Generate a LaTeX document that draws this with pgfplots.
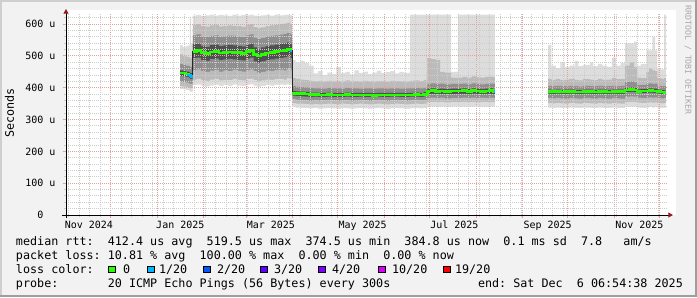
\documentclass[border=0pt]{standalone}
\usepackage{fontspec}
\setmainfont{DejaVu Sans Mono}
\usepackage{pgfplots}
\pgfplotsset{compat=1.18}
\usepackage{pgfplotstable}
\usetikzlibrary{arrows.meta}
\frenchspacing

\definecolor{bgc}{HTML}{F2F2F2}
\definecolor{shadeA}{HTML}{CFCFCF}
\definecolor{shadeB}{HTML}{9E9E9E}
\definecolor{majgrid}{HTML}{E4A0A0}
\definecolor{mingrid}{HTML}{CCCCCC}
\definecolor{arrowc}{HTML}{991A1A}
\definecolor{sA}{HTML}{DDDDDD}
\definecolor{sB}{HTML}{BBBBBB}
\definecolor{sC}{HTML}{8F8F8F}
\definecolor{sD}{HTML}{505050}
\definecolor{l0}{HTML}{26FF00}
\definecolor{l1}{HTML}{00B8FF}
\definecolor{l2}{HTML}{0059FF}
\definecolor{l3}{HTML}{5E00FF}
\definecolor{l4}{HTML}{7E00FF}
\definecolor{l10}{HTML}{DD00FF}
\definecolor{l19}{HTML}{FF0000}
\definecolor{wm}{HTML}{A8A8A8}

% days since 1 Nov 2024
\pgfplotstableread{
day mn p10 p25 p45 med p55 p75 p90 mx
76.1 396 405 420 437 447 455 475 505 534
78.0 395 404 418 436 446 453 472 500 528
80.0 393 402 416 434 443 451 470 498 532
82.0 390 400 414 431 440 449 468 496 535
82.7 386 398 412 428 438 447 466 495 624
83.5 388 399 413 428 436 446 466 494 540
84.7 408 425 455 493 515 537 565 598 627
87 410 428 458 495 517 539 568 600 629
90 406 424 452 488 510 532 561 594 626
93 404 422 450 485 507 529 559 592 628
96 407 426 454 490 512 534 563 596 630
99 409 427 456 492 514 536 565 597 627
102 405 423 451 487 509 531 560 593 629
105 408 425 455 489 511 533 562 595 628
108 406 424 452 491 513 535 564 596 626
111 410 428 457 489 511 533 563 595 630
114 407 425 453 488 510 532 561 594 627
117 405 423 451 486 508 530 559 592 629
120 409 427 455 492 514 536 565 598 628
122.6 411 429 458 495 517 539 568 600 630
125 406 424 452 483 505 527 558 591 627
127.3 403 420 447 478 500 522 553 588 626
130 405 423 450 483 505 527 557 590 628
133 408 426 454 487 509 531 561 594 629
136 407 425 453 489 511 533 563 596 627
139 409 427 456 492 514 536 565 598 630
142 410 428 457 494 516 538 567 600 628
145 408 426 455 496 518 540 569 602 629
147.2 411 430 459 499 521 543 572 604 630
149.5 409 428 457 494 516 538 568 600 628
150.6 340 352 365 375 383 390 405 430 487
153 338 350 363 374 382 389 403 428 480
156 337 350 362 373 381 388 402 426 485
159 336 349 361 372 380 387 401 424 478
162 335 348 360 371 378 385 399 422 470
165 336 349 361 372 378 385 398 420 445
168 334 348 360 371 377 384 398 421 452
171 335 349 361 371 377 384 397 419 440
174 336 350 362 372 378 385 399 422 448
177 335 349 361 371 377 384 398 420 444
180 334 348 360 371 377 384 398 421 465
183 336 350 361 371 377 384 397 419 446
186 335 349 361 372 378 385 399 423 450
189 334 348 360 371 377 384 398 420 442
192 335 349 361 371 377 384 398 421 455
195 336 350 362 372 377 384 397 419 447
198 335 349 361 371 377 384 398 422 451
201 334 348 360 371 377 384 398 420 443
204 335 349 361 371 376 383 397 419 448
207 336 350 362 372 377 384 398 421 454
210 335 349 361 371 377 384 398 420 446
213 334 348 360 371 377 384 397 419 449
216 335 349 361 372 377 384 398 422 452
219 336 350 362 372 377 384 398 421 445
222 335 349 361 371 377 384 397 420 450
225 334 348 360 371 377 384 398 419 447
228.9 335 349 361 372 377 384 398 422 630
232 336 350 362 372 378 385 399 423 630
235 335 349 361 371 377 384 398 421 630
238 336 350 362 373 378 386 400 425 630
240.5 340 355 368 380 390 397 412 493 630
243 341 356 369 381 391 398 414 490 630
246 340 355 368 380 389 396 412 488 630
249 341 356 369 381 390 397 413 450 630
252 340 354 367 380 389 396 411 448 630
256.3 341 355 368 380 390 397 412 432 450
260.9 340 355 368 381 390 397 412 432 630
264 341 356 369 381 391 398 413 434 630
267 340 355 368 380 389 396 411 432 630
270 341 356 369 382 391 398 414 436 630
273 340 355 368 381 390 397 412 433 630
276 341 356 369 381 389 396 411 432 630
279 340 355 368 381 390 397 412 434 630
282 341 356 369 381 391 398 413 435 630
284.5 340 355 368 380 389 396 412 433 630
285.5 340 355 368 380 389 396 412 433 630
}\segABC

\pgfplotstableread{
day mn p10 p25 p45 med p55 p75 p90 mx
320.8 338 352 368 382 388 394 406 428 534
323 337 351 367 381 388 393 405 425 470
326 338 352 368 382 388 394 406 427 462
329 337 351 367 381 387 393 405 424 480
332 336 350 366 381 388 394 405 426 465
335 338 352 368 382 388 394 406 428 470
338.7 337 351 367 381 387 393 405 425 485
341 336 350 366 380 387 393 404 423 468
344 338 352 368 382 388 394 406 427 472
348.7 337 351 367 381 388 394 405 426 480
351 336 350 366 381 387 393 405 424 468
354 338 352 368 382 388 394 406 428 475
357 337 351 367 381 388 394 405 425 470
360 336 350 366 381 387 393 405 426 466
363.3 338 352 368 382 388 394 406 430 495
366 337 351 367 381 388 394 405 427 470
369 336 350 366 381 388 394 406 428 478
372 340 355 372 386 393 400 418 470 540
375 341 356 373 387 394 401 420 480 540
378 340 355 372 386 393 400 417 465 545
380 338 353 369 383 389 395 408 432 470
382.5 337 352 368 383 390 396 409 430 475
386.2 338 353 369 384 390 397 412 450 518
388 339 354 370 385 391 398 414 460 518
390.1 338 353 369 384 390 397 412 455 560
392 339 354 370 384 390 397 413 452 518
393.5 337 352 368 382 388 394 406 430 460
396 336 351 367 381 387 393 405 428 458
397.9 337 352 368 381 386 392 405 430 630
399.2 337 352 368 381 386 392 405 430 630
}\segD

% painter's order: each band filled down to the axis, inner bands over outer ones
\newcommand\smoke[1]{%
  \addplot[const plot, fill=sA, draw=none, forget plot] table[x=day,y=mx]{#1} \closedcycle;
  \addplot[const plot, fill=sB, draw=none, forget plot] table[x=day,y=p90]{#1} \closedcycle;
  \addplot[const plot, fill=sC, draw=none, forget plot] table[x=day,y=p75]{#1} \closedcycle;
  \addplot[const plot, fill=sD, draw=none, forget plot] table[x=day,y=p55]{#1} \closedcycle;
  \addplot[const plot, fill=sC, draw=none, forget plot] table[x=day,y=p45]{#1} \closedcycle;
  \addplot[const plot, fill=sB, draw=none, forget plot] table[x=day,y=p25]{#1} \closedcycle;
  \addplot[const plot, fill=sA, draw=none, forget plot] table[x=day,y=p10]{#1} \closedcycle;
  \addplot[const plot, fill=white, draw=none, forget plot] table[x=day,y=mn]{#1} \closedcycle;
}

\pgfplotsset{frame/.style={
  at={(49.5pt,61.5pt)}, anchor=south west,
  scale only axis, width=451.2pt, height=150.75pt,
  xmin=0.29, xmax=400.29, ymin=0, ymax=632}}

\begin{document}
\begin{tikzpicture}
\begin{scope}[x=0.75pt,y=-0.75pt,shift={(0pt,222.75pt)}]
  \fill[bgc] (0,0) rectangle (697,297);
  \fill[shadeA] (0,0) rectangle (697,2);
  \fill[shadeA] (0,0) rectangle (2,297);
  \fill[shadeB] (0,295) rectangle (697,297);
  \fill[shadeB] (695,0) rectangle (697,297);
  \fill[white] (66,10) rectangle (676,215);
\end{scope}

\begin{axis}[
  frame,
  axis on top,
  axis lines=left,
  x axis line style={black, line width=0.75pt, shorten <=-3pt,
    -{Triangle[width=3.75pt,length=3.5pt,color=arrowc]}, shorten >=-4pt},
  y axis line style={black, line width=0.75pt, shorten <=-2.25pt,
    -{Triangle[width=3.75pt,length=3.5pt,color=arrowc]}, shorten >=-3.75pt},
  xtick={30,61,92,120,151,181,212,242,273,304,334,365,395},
  xticklabels={},
  minor xtick={2,9,...,400},
  ytick={0,100,200,300,400,500,600},
  yticklabels={0,100 u,200 u,300 u,400 u,500 u,600 u},
  minor ytick={20,40,60,80,120,140,160,180,220,240,260,280,320,340,360,380,420,440,460,480,520,540,560,580,620},
  extra x ticks={15.5,76.3,136.5,197.5,258.5,320.5,381.5},
  extra x tick labels={Nov 2024,Jan 2025,Mar 2025,May 2025,Jul 2025,Sep 2025,Nov 2025},
  extra x tick style={grid=none, major tick length=0pt},
  grid=both,
  major grid style={majgrid, line width=0.75pt, dash pattern=on 0.75pt off 0.75pt},
  minor grid style={mingrid, line width=0.75pt, dash pattern=on 0.75pt off 0.75pt},
  tick align=outside,
  major tick length=2.25pt, minor tick length=1.5pt,
  major tick style={majgrid, line width=0.75pt},
  minor tick style={mingrid, line width=0.75pt},
  tick label style={font=\fontsize{7.5}{9}\selectfont, black},
  xticklabel style={anchor=base, yshift=-9.75pt},
  yticklabel style={anchor=center, xshift=-16.9pt},
]
\smoke{\segABC}
\smoke{\segD}
\end{axis}

% median line drawn above the grid
\begin{axis}[frame, hide axis]
\addplot[const plot, black!85, line width=0.75pt] table[x=day,y=med]{\segABC};
\addplot[const plot, black!85, line width=0.75pt] table[x=day,y=med]{\segD};
\addplot[const plot, l0, line width=2pt, restrict x to domain=76:84.6] table[x=day,y=med]{\segABC};
\addplot[const plot, l0, line width=2pt, restrict x to domain=84.6:150] table[x=day,y=med]{\segABC};
\addplot[const plot, l0, line width=2pt, restrict x to domain=150.5:286] table[x=day,y=med]{\segABC};
\addplot[const plot, l0, line width=2pt] table[x=day,y=med]{\segD};
\addplot[const plot, l1, line width=2pt] coordinates {(80.7,440) (82.7,438) (83.5,436) (84.7,436)};
\addplot[const plot, l1, line width=2pt] coordinates {(149.5,516) (150.6,516)};
\addplot[const plot, l1, line width=2pt] coordinates {(284.8,389) (285.5,389)};
\end{axis}

\begin{scope}[x=0.75pt,y=-0.75pt,shift={(0pt,222.75pt)}, every node/.style={inner sep=0pt, outer sep=0pt}]
  \node[rotate=90, font=\fontsize{8.8}{10}\selectfont] at (9.5,113) {Seconds};
  \node[rotate=-90, font=\fontsize{6.2}{7}\selectfont, text=wm] at (688,60) {RRDTOOL / TOBI OETIKER};
  \begin{scope}[every node/.append style={anchor=base west, font=\fontsize{8.8}{10}\selectfont}]
  \node at (16,245) {median rtt:~~412.4 us avg~~519.5 us max~~374.5 us min~~384.8 us now~~0.1 ms sd~~7.8~~~am/s};
  \node at (16,259) {packet loss: 10.81 \% avg~~100.00 \% max~~0.00 \% min~~0.00 \% now};
  \node at (16,273) {loss color:};
  \node at (123,273) {0};
  \node at (159,273) {1/20};
  \node at (217,273) {2/20};
  \node at (274,273) {3/20};
  \node at (332,273) {4/20};
  \node at (392,273) {10/20};
  \node at (455,273) {19/20};
  \node at (16,287) {probe:~~~~~~~20 ICMP Echo Pings (56 Bytes) every 300s};
  \node at (478,287) {end: Sat Dec~~6 06:54:38 2025};
  \end{scope}
  \foreach \xx/\cc in {108/l0,147/l1,203/l2,260/l3,318/l4,378/l10,443/l19}
    \draw[black, line width=0.75pt, fill=\cc] (\xx+0.5,266) rectangle (\xx+7,272.5);
\end{scope}
\pgfresetboundingbox
\useasboundingbox (0,0) rectangle (522.75pt,222.75pt);
\end{tikzpicture}
\end{document}
